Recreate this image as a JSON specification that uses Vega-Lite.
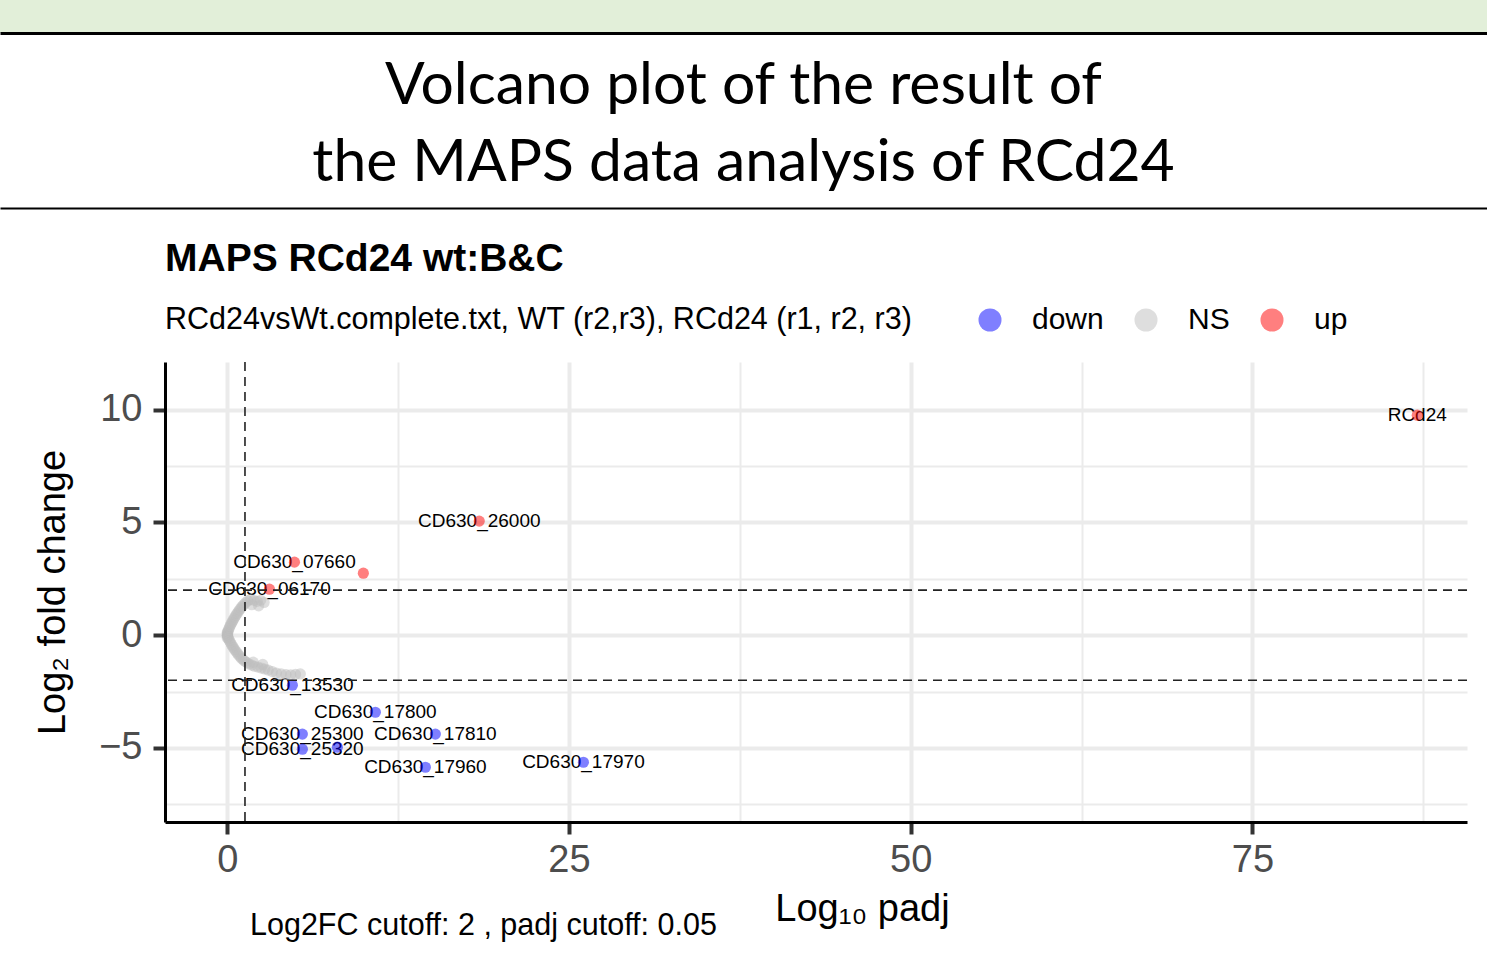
{
  "$schema": "https://vega.github.io/schema/vega-lite/v6.json",
  "padding": 0,
  "background": "white",
  "spacing": 31,
  "title": {"text": "Log2FC cutoff: 2 , padj cutoff: 0.05", "orient": "bottom", "anchor": "start", "frame": "group", "dx": 250, "offset": -17, "font": "Liberation Sans", "fontSize": 30.5, "fontWeight": "normal", "color": "#000000"},
  "datasets": {
    "header": [{"heading": "Volcano plot of the result of\nthe MAPS data analysis of RCd24"}],
    "genes": [
      {"nlog10padj": 87.06, "log2FC": 9.76, "status": "up", "label": "RCd24"},
      {"nlog10padj": 18.44, "log2FC": 5.06, "status": "up", "label": "CD630_26000"},
      {"nlog10padj": 4.92, "log2FC": 3.24, "status": "up", "label": "CD630_07660"},
      {"nlog10padj": 9.96, "log2FC": 2.75, "status": "up", "label": ""},
      {"nlog10padj": 3.09, "log2FC": 2.04, "status": "up", "label": "CD630_06170"},
      {"nlog10padj": 4.77, "log2FC": -2.22, "status": "down", "label": "CD630_13530"},
      {"nlog10padj": 10.84, "log2FC": -3.42, "status": "down", "label": "CD630_17800"},
      {"nlog10padj": 5.5, "log2FC": -4.39, "status": "down", "label": "CD630_25300"},
      {"nlog10padj": 15.23, "log2FC": -4.39, "status": "down", "label": "CD630_17810"},
      {"nlog10padj": 5.5, "log2FC": -5.06, "status": "down", "label": "CD630_25320"},
      {"nlog10padj": 8.06, "log2FC": -4.97, "status": "down", "label": ""},
      {"nlog10padj": 14.5, "log2FC": -5.86, "status": "down", "label": "CD630_17960"},
      {"nlog10padj": 26.06, "log2FC": -5.64, "status": "down", "label": "CD630_17970"},
      {"nlog10padj": 0.0, "log2FC": 0.0, "status": "NS", "label": ""},
      {"nlog10padj": 0.01, "log2FC": -0.02, "status": "NS", "label": ""},
      {"nlog10padj": 0.03, "log2FC": 0.03, "status": "NS", "label": ""},
      {"nlog10padj": 0.0, "log2FC": 0.12, "status": "NS", "label": ""},
      {"nlog10padj": 0.0, "log2FC": -0.12, "status": "NS", "label": ""},
      {"nlog10padj": 0.02, "log2FC": 0.08, "status": "NS", "label": ""},
      {"nlog10padj": 0.06, "log2FC": 0.16, "status": "NS", "label": ""},
      {"nlog10padj": 0.1, "log2FC": 0.24, "status": "NS", "label": ""},
      {"nlog10padj": 0.15, "log2FC": 0.32, "status": "NS", "label": ""},
      {"nlog10padj": 0.21, "log2FC": 0.4, "status": "NS", "label": ""},
      {"nlog10padj": 0.27, "log2FC": 0.48, "status": "NS", "label": ""},
      {"nlog10padj": 0.34, "log2FC": 0.56, "status": "NS", "label": ""},
      {"nlog10padj": 0.41, "log2FC": 0.64, "status": "NS", "label": ""},
      {"nlog10padj": 0.48, "log2FC": 0.72, "status": "NS", "label": ""},
      {"nlog10padj": 0.56, "log2FC": 0.8, "status": "NS", "label": ""},
      {"nlog10padj": 0.64, "log2FC": 0.88, "status": "NS", "label": ""},
      {"nlog10padj": 0.72, "log2FC": 0.96, "status": "NS", "label": ""},
      {"nlog10padj": 0.81, "log2FC": 1.04, "status": "NS", "label": ""},
      {"nlog10padj": 0.9, "log2FC": 1.12, "status": "NS", "label": ""},
      {"nlog10padj": 1.0, "log2FC": 1.2, "status": "NS", "label": ""},
      {"nlog10padj": 1.1, "log2FC": 1.28, "status": "NS", "label": ""},
      {"nlog10padj": 1.22, "log2FC": 1.36, "status": "NS", "label": ""},
      {"nlog10padj": 1.35, "log2FC": 1.44, "status": "NS", "label": ""},
      {"nlog10padj": 1.5, "log2FC": 1.52, "status": "NS", "label": ""},
      {"nlog10padj": 1.7, "log2FC": 1.58, "status": "NS", "label": ""},
      {"nlog10padj": 1.95, "log2FC": 1.55, "status": "NS", "label": ""},
      {"nlog10padj": 2.2, "log2FC": 1.5, "status": "NS", "label": ""},
      {"nlog10padj": 2.45, "log2FC": 1.55, "status": "NS", "label": ""},
      {"nlog10padj": 2.7, "log2FC": 1.45, "status": "NS", "label": ""},
      {"nlog10padj": 1.8, "log2FC": 1.35, "status": "NS", "label": ""},
      {"nlog10padj": 2.3, "log2FC": 1.3, "status": "NS", "label": ""},
      {"nlog10padj": 0.05, "log2FC": -0.08, "status": "NS", "label": ""},
      {"nlog10padj": 0.1, "log2FC": -0.16, "status": "NS", "label": ""},
      {"nlog10padj": 0.16, "log2FC": -0.24, "status": "NS", "label": ""},
      {"nlog10padj": 0.23, "log2FC": -0.32, "status": "NS", "label": ""},
      {"nlog10padj": 0.3, "log2FC": -0.4, "status": "NS", "label": ""},
      {"nlog10padj": 0.38, "log2FC": -0.48, "status": "NS", "label": ""},
      {"nlog10padj": 0.46, "log2FC": -0.56, "status": "NS", "label": ""},
      {"nlog10padj": 0.55, "log2FC": -0.64, "status": "NS", "label": ""},
      {"nlog10padj": 0.64, "log2FC": -0.72, "status": "NS", "label": ""},
      {"nlog10padj": 0.74, "log2FC": -0.8, "status": "NS", "label": ""},
      {"nlog10padj": 0.84, "log2FC": -0.88, "status": "NS", "label": ""},
      {"nlog10padj": 0.95, "log2FC": -0.96, "status": "NS", "label": ""},
      {"nlog10padj": 1.06, "log2FC": -1.04, "status": "NS", "label": ""},
      {"nlog10padj": 1.18, "log2FC": -1.1, "status": "NS", "label": ""},
      {"nlog10padj": 1.3, "log2FC": -1.16, "status": "NS", "label": ""},
      {"nlog10padj": 1.45, "log2FC": -1.22, "status": "NS", "label": ""},
      {"nlog10padj": 1.6, "log2FC": -1.28, "status": "NS", "label": ""},
      {"nlog10padj": 1.8, "log2FC": -1.33, "status": "NS", "label": ""},
      {"nlog10padj": 2.0, "log2FC": -1.38, "status": "NS", "label": ""},
      {"nlog10padj": 2.25, "log2FC": -1.42, "status": "NS", "label": ""},
      {"nlog10padj": 2.5, "log2FC": -1.46, "status": "NS", "label": ""},
      {"nlog10padj": 2.75, "log2FC": -1.5, "status": "NS", "label": ""},
      {"nlog10padj": 3.0, "log2FC": -1.55, "status": "NS", "label": ""},
      {"nlog10padj": 3.3, "log2FC": -1.62, "status": "NS", "label": ""},
      {"nlog10padj": 3.6, "log2FC": -1.68, "status": "NS", "label": ""},
      {"nlog10padj": 3.95, "log2FC": -1.72, "status": "NS", "label": ""},
      {"nlog10padj": 4.3, "log2FC": -1.75, "status": "NS", "label": ""},
      {"nlog10padj": 4.65, "log2FC": -1.76, "status": "NS", "label": ""},
      {"nlog10padj": 5.0, "log2FC": -1.74, "status": "NS", "label": ""},
      {"nlog10padj": 5.35, "log2FC": -1.72, "status": "NS", "label": ""},
      {"nlog10padj": 2.6, "log2FC": -1.3, "status": "NS", "label": ""},
      {"nlog10padj": 1.9, "log2FC": -1.2, "status": "NS", "label": ""}
    ]
  },
  "vconcat": [
    {
      "spacing": 0,
      "vconcat": [
        {
          "width": 1487,
          "height": 33,
          "data": {"values": [{}]},
          "view": {"fill": "#E2EFD9", "stroke": null},
          "mark": {"type": "text"},
          "encoding": {
            "text": {"value": ""},
            "x": {"datum": 0.5, "type": "quantitative", "scale": {"domain": [0, 1]}, "axis": null},
            "y": {"datum": 0.5, "type": "quantitative", "scale": {"domain": [0, 1]}, "axis": null}
          }
        },
        {
          "width": 1487,
          "height": 175,
          "data": {"name": "header"},
          "view": {"stroke": null},
          "layer": [
            {
              "mark": {"type": "text", "font": "Lato", "fontSize": 58.8, "lineBreak": "\n", "lineHeight": 77, "color": "#000000", "baseline": "middle", "align": "center"},
              "encoding": {
                "text": {"field": "heading"},
                "x": {"datum": 0.5, "type": "quantitative", "scale": {"domain": [0, 1]},
                  "axis": {"orient": "bottom", "domain": true, "domainColor": "#000000", "domainWidth": 2.2, "ticks": false, "labels": false, "grid": false, "title": null}},
                "y": {"datum": 0.70, "type": "quantitative", "scale": {"domain": [0, 1]}, "axis": null}
              }
            },
            {
              "mark": {"type": "text"},
              "encoding": {
                "text": {"value": ""},
                "x": {"datum": 0.5, "type": "quantitative",
                  "axis": {"orient": "top", "domain": true, "domainColor": "#000000", "domainWidth": 2.8, "ticks": false, "labels": false, "grid": false, "title": null}},
                "y": {"datum": 0.5, "type": "quantitative", "axis": null}
              }
            }
          ],
          "resolve": {"axis": {"x": "independent"}}
        }
      ]
    },
    {
      "spacing": 0,
      "hconcat": [
        {
          "width": 34,
          "height": 10,
          "data": {"values": [{}]},
          "view": {"stroke": null},
          "mark": {"type": "text"},
          "encoding": {
            "text": {"value": ""},
            "x": {"datum": 0.5, "type": "quantitative", "scale": {"domain": [0, 1]}, "axis": null},
            "y": {"datum": 0.5, "type": "quantitative", "scale": {"domain": [0, 1]}, "axis": null}
          }
        },
        {
          "width": 1302,
          "height": 460,
          "data": {"name": "genes"},
          "view": {"stroke": null},
          "title": {
            "text": "MAPS RCd24 wt:B&C",
            "subtitle": "RCd24vsWt.complete.txt, WT (r2,r3), RCd24 (r1, r2, r3)",
            "anchor": "start", "frame": "group",
            "font": "Liberation Sans", "fontSize": 39, "fontWeight": "bold", "color": "#000000",
            "subtitleFont": "Liberation Sans", "subtitleFontSize": 30.5, "subtitleColor": "#000000",
            "subtitlePadding": 26, "offset": 26
          },
          "layer": [
            {
              "mark": {"type": "text", "font": "Liberation Sans", "fontSize": 19, "color": "#000000", "align": "center", "baseline": "middle"},
              "encoding": {
                "x": {"field": "nlog10padj", "type": "quantitative", "scale": {"domain": [-4.55, 90.7], "nice": false, "zero": false},
                  "axis": {
                    "values": [0, 12.5, 25, 37.5, 50, 62.5, 75, 87.5],
                    "format": "~g",
                    "labelExpr": "datum.value % 25 === 0 ? datum.label : ''",
                    "grid": true, "gridColor": "#EBEBEB",
                    "gridWidth": {"condition": {"test": "datum.value % 25 === 0", "value": 4}, "value": 2},
                    "tickColor": {"condition": {"test": "datum.value % 25 === 0", "value": "#333333"}, "value": "transparent"},
                    "tickWidth": 4, "tickSize": 12,
                    "domainColor": "#000000", "domainWidth": 3,
                    "labelFont": "Liberation Sans", "labelFontSize": 38, "labelColor": "#4D4D4D", "labelPadding": 7,
                    "labelFlush": false, "labelOverlap": false,
                    "title": "Log₁₀ padj", "titleFont": "Liberation Sans", "titleFontSize": 38, "titleFontWeight": "normal", "titleColor": "#000000",
                    "titleX": 697, "titleAlign": "center", "titlePadding": 11
                  }},
                "y": {"field": "log2FC", "type": "quantitative", "scale": {"domain": [-8.29, 12.12], "nice": false, "zero": false},
                  "axis": {
                    "values": [-7.5, -5, -2.5, 0, 2.5, 5, 7.5, 10],
                    "format": "~g",
                    "labelExpr": "datum.value % 5 === 0 ? datum.label : ''",
                    "grid": true, "gridColor": "#EBEBEB",
                    "gridWidth": {"condition": {"test": "datum.value % 5 === 0", "value": 4}, "value": 2},
                    "tickColor": {"condition": {"test": "datum.value % 5 === 0", "value": "#333333"}, "value": "transparent"},
                    "tickWidth": 4, "tickSize": 12,
                    "domainColor": "#000000", "domainWidth": 3,
                    "labelFont": "Liberation Sans", "labelFontSize": 38, "labelColor": "#4D4D4D", "labelPadding": 11,
                    "labelFlush": false, "labelOverlap": false,
                    "title": "Log₂ fold change", "titleFont": "Liberation Sans", "titleFontSize": 38, "titleFontWeight": "normal", "titleColor": "#000000",
                    "titlePadding": 26
                  }},
                "text": {"field": "label"}
              }
            },
            {
              "mark": {"type": "circle", "size": 125, "opacity": 0.5, "strokeWidth": 0},
              "encoding": {
                "x": {"field": "nlog10padj", "type": "quantitative"},
                "y": {"field": "log2FC", "type": "quantitative"},
                "color": {"field": "status", "type": "nominal",
                  "scale": {"domain": ["down", "NS", "up"], "range": ["#0000FF", "#BEBEBE", "#FF0000"]},
                  "legend": {"orient": "none", "legendX": 975, "legendY": 305, "direction": "horizontal", "title": null,
                    "padding": 0, "symbolType": "circle", "symbolSize": 530, "symbolOpacity": 0.5, "symbolStrokeWidth": 0,
                    "labelFont": "Liberation Sans", "labelFontSize": 30, "labelColor": "#000000", "labelOffset": 27, "columnPadding": 27}}
              }
            },
            {
              "data": {"values": [{}]},
              "mark": {"type": "rule", "strokeDash": [9, 6], "strokeWidth": 1.6, "color": "#222222"},
              "encoding": {"x": {"datum": 1.30103, "type": "quantitative"}}
            },
            {
              "data": {"values": [{}]},
              "mark": {"type": "rule", "strokeDash": [9, 6], "strokeWidth": 1.6, "color": "#222222"},
              "encoding": {"y": {"datum": 2, "type": "quantitative"}}
            },
            {
              "data": {"values": [{}]},
              "mark": {"type": "rule", "strokeDash": [9, 6], "strokeWidth": 1.6, "color": "#222222"},
              "encoding": {"y": {"datum": -2, "type": "quantitative"}}
            }
          ]
        }
      ]
    }
  ],
  "config": {
    "view": {"stroke": null},
    "font": "Liberation Sans"
  }
}
